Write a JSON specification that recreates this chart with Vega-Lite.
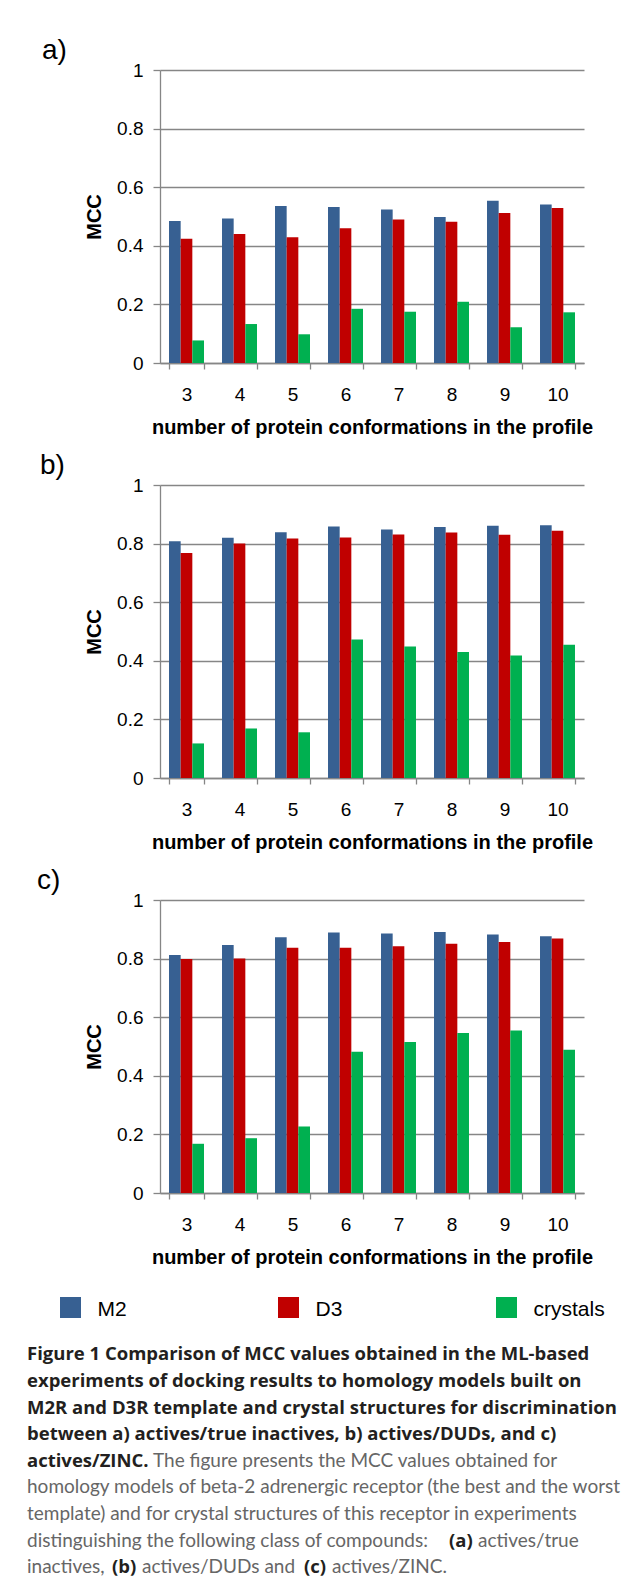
{
  "$schema": "https://vega.github.io/schema/vega-lite/v6.json",
  "padding": {"left": 27, "top": 37, "right": 0, "bottom": 0},
  "background": "white",
  "spacing": 15,
  "datasets": {
    "mcc": [
      {"panel": "a", "n": 3, "series": "M2", "MCC": 0.485}, {"panel": "a", "n": 3, "series": "D3", "MCC": 0.424}, {"panel": "a", "n": 3, "series": "crystals", "MCC": 0.077},
      {"panel": "a", "n": 4, "series": "M2", "MCC": 0.493}, {"panel": "a", "n": 4, "series": "D3", "MCC": 0.440}, {"panel": "a", "n": 4, "series": "crystals", "MCC": 0.133},
      {"panel": "a", "n": 5, "series": "M2", "MCC": 0.536}, {"panel": "a", "n": 5, "series": "D3", "MCC": 0.429}, {"panel": "a", "n": 5, "series": "crystals", "MCC": 0.098},
      {"panel": "a", "n": 6, "series": "M2", "MCC": 0.532}, {"panel": "a", "n": 6, "series": "D3", "MCC": 0.460}, {"panel": "a", "n": 6, "series": "crystals", "MCC": 0.185},
      {"panel": "a", "n": 7, "series": "M2", "MCC": 0.524}, {"panel": "a", "n": 7, "series": "D3", "MCC": 0.490}, {"panel": "a", "n": 7, "series": "crystals", "MCC": 0.175},
      {"panel": "a", "n": 8, "series": "M2", "MCC": 0.498}, {"panel": "a", "n": 8, "series": "D3", "MCC": 0.482}, {"panel": "a", "n": 8, "series": "crystals", "MCC": 0.209},
      {"panel": "a", "n": 9, "series": "M2", "MCC": 0.554}, {"panel": "a", "n": 9, "series": "D3", "MCC": 0.512}, {"panel": "a", "n": 9, "series": "crystals", "MCC": 0.122},
      {"panel": "a", "n": 10, "series": "M2", "MCC": 0.541}, {"panel": "a", "n": 10, "series": "D3", "MCC": 0.529}, {"panel": "a", "n": 10, "series": "crystals", "MCC": 0.173},
      {"panel": "b", "n": 3, "series": "M2", "MCC": 0.808}, {"panel": "b", "n": 3, "series": "D3", "MCC": 0.768}, {"panel": "b", "n": 3, "series": "crystals", "MCC": 0.118},
      {"panel": "b", "n": 4, "series": "M2", "MCC": 0.820}, {"panel": "b", "n": 4, "series": "D3", "MCC": 0.800}, {"panel": "b", "n": 4, "series": "crystals", "MCC": 0.169},
      {"panel": "b", "n": 5, "series": "M2", "MCC": 0.839}, {"panel": "b", "n": 5, "series": "D3", "MCC": 0.817}, {"panel": "b", "n": 5, "series": "crystals", "MCC": 0.156},
      {"panel": "b", "n": 6, "series": "M2", "MCC": 0.858}, {"panel": "b", "n": 6, "series": "D3", "MCC": 0.821}, {"panel": "b", "n": 6, "series": "crystals", "MCC": 0.473},
      {"panel": "b", "n": 7, "series": "M2", "MCC": 0.848}, {"panel": "b", "n": 7, "series": "D3", "MCC": 0.831}, {"panel": "b", "n": 7, "series": "crystals", "MCC": 0.449},
      {"panel": "b", "n": 8, "series": "M2", "MCC": 0.857}, {"panel": "b", "n": 8, "series": "D3", "MCC": 0.838}, {"panel": "b", "n": 8, "series": "crystals", "MCC": 0.430},
      {"panel": "b", "n": 9, "series": "M2", "MCC": 0.861}, {"panel": "b", "n": 9, "series": "D3", "MCC": 0.830}, {"panel": "b", "n": 9, "series": "crystals", "MCC": 0.418},
      {"panel": "b", "n": 10, "series": "M2", "MCC": 0.863}, {"panel": "b", "n": 10, "series": "D3", "MCC": 0.844}, {"panel": "b", "n": 10, "series": "crystals", "MCC": 0.455},
      {"panel": "c", "n": 3, "series": "M2", "MCC": 0.812}, {"panel": "c", "n": 3, "series": "D3", "MCC": 0.799}, {"panel": "c", "n": 3, "series": "crystals", "MCC": 0.168},
      {"panel": "c", "n": 4, "series": "M2", "MCC": 0.846}, {"panel": "c", "n": 4, "series": "D3", "MCC": 0.800}, {"panel": "c", "n": 4, "series": "crystals", "MCC": 0.187},
      {"panel": "c", "n": 5, "series": "M2", "MCC": 0.873}, {"panel": "c", "n": 5, "series": "D3", "MCC": 0.837}, {"panel": "c", "n": 5, "series": "crystals", "MCC": 0.227},
      {"panel": "c", "n": 6, "series": "M2", "MCC": 0.889}, {"panel": "c", "n": 6, "series": "D3", "MCC": 0.837}, {"panel": "c", "n": 6, "series": "crystals", "MCC": 0.482},
      {"panel": "c", "n": 7, "series": "M2", "MCC": 0.886}, {"panel": "c", "n": 7, "series": "D3", "MCC": 0.842}, {"panel": "c", "n": 7, "series": "crystals", "MCC": 0.515},
      {"panel": "c", "n": 8, "series": "M2", "MCC": 0.891}, {"panel": "c", "n": 8, "series": "D3", "MCC": 0.851}, {"panel": "c", "n": 8, "series": "crystals", "MCC": 0.546},
      {"panel": "c", "n": 9, "series": "M2", "MCC": 0.882}, {"panel": "c", "n": 9, "series": "D3", "MCC": 0.857}, {"panel": "c", "n": 9, "series": "crystals", "MCC": 0.555},
      {"panel": "c", "n": 10, "series": "M2", "MCC": 0.876}, {"panel": "c", "n": 10, "series": "D3", "MCC": 0.869}, {"panel": "c", "n": 10, "series": "crystals", "MCC": 0.489}
    ],
    "legend": [{"series": "M2"}, {"series": "D3"}, {"series": "crystals"}],
    "caption": [
      {"line": 1, "part": "b", "text": "Figure 1 Comparison of MCC values obtained in the ML-based"},
      {"line": 2, "part": "b", "text": "experiments of docking results to homology models built on"},
      {"line": 3, "part": "b", "text": "M2R and D3R template and crystal structures for discrimination"},
      {"line": 4, "part": "b", "text": "between a) actives/true inactives, b) actives/DUDs, and c)"},
      {"line": 5, "part": "b", "text": "actives/ZINC."},
      {"line": 5, "part": "n5", "text": "The figure presents the MCC values obtained for"},
      {"line": 6, "part": "n", "text": "homology models of beta-2 adrenergic receptor (the best and the worst"},
      {"line": 7, "part": "n", "text": "template) and for crystal structures of this receptor in experiments"},
      {"line": 8, "part": "n", "text": "distinguishing the following class of compounds:"},
      {"line": 8, "part": "b8a", "text": "(a)"},
      {"line": 8, "part": "n8", "text": "actives/true"},
      {"line": 9, "part": "n", "text": "inactives,"},
      {"line": 9, "part": "b9b", "text": "(b)"},
      {"line": 9, "part": "n9b", "text": "actives/DUDs and"},
      {"line": 9, "part": "b9c", "text": "(c)"},
      {"line": 9, "part": "n9c", "text": "actives/ZINC."}
    ]
  },
  "resolve": {"scale": {"x": "independent", "y": "independent", "xOffset": "independent"}},
  "config": {
    "font": "Liberation Sans",
    "view": {"stroke": null},
    "axis": {
      "domainColor": "#868686", "domainWidth": 1.3,
      "tickColor": "#868686", "tickWidth": 1.3,
      "gridColor": "#868686", "gridWidth": 1.3,
      "labelFont": "Liberation Sans", "labelFontSize": 19, "labelColor": "#000000",
      "titleFont": "Liberation Sans", "titleFontSize": 20, "titleFontWeight": "bold", "titleColor": "#000000"
    },
    "axisX": {"tickSize": 6, "labelPadding": 16, "titlePadding": 13, "grid": false, "labelAngle": 0, "tickBand": "extent"},
    "axisY": {"tickSize": 7, "labelPadding": 10, "titlePadding": 12, "grid": true},
    "title": {"fontSize": 28, "fontWeight": "normal", "font": "Liberation Sans", "anchor": "start", "frame": "group", "color": "#000000", "offset": -4}
  },
  "vconcat": [
    {
      "title": {"text": "a)", "dx": -118},
      "width": 424, "height": 293,
      "data": {"name": "mcc"},
      "transform": [{"filter": "datum.panel == 'a'"}],
      "mark": {"type": "bar"},
      "encoding": {
        "x": {"field": "n", "type": "ordinal", "scale": {"paddingInner": 0.34, "paddingOuter": 0.17}, "axis": {"title": "number of protein conformations in the profile"}},
        "xOffset": {"field": "series", "type": "nominal", "sort": ["M2", "D3", "crystals"], "scale": {"paddingInner": 0, "paddingOuter": 0}},
        "y": {"field": "MCC", "type": "quantitative", "scale": {"domain": [0, 1]}, "axis": {"title": "MCC", "values": [0, 0.2, 0.4, 0.6, 0.8, 1], "format": "~g"}},
        "color": {"field": "series", "type": "nominal", "scale": {"domain": ["M2", "D3", "crystals"], "range": ["#376092", "#C00000", "#00B050"]}, "legend": null}
      }
    },
    {
      "title": {"text": "b)", "dx": -120},
      "width": 424, "height": 293,
      "data": {"name": "mcc"},
      "transform": [{"filter": "datum.panel == 'b'"}],
      "mark": {"type": "bar"},
      "encoding": {
        "x": {"field": "n", "type": "ordinal", "scale": {"paddingInner": 0.34, "paddingOuter": 0.17}, "axis": {"title": "number of protein conformations in the profile"}},
        "xOffset": {"field": "series", "type": "nominal", "sort": ["M2", "D3", "crystals"], "scale": {"paddingInner": 0, "paddingOuter": 0}},
        "y": {"field": "MCC", "type": "quantitative", "scale": {"domain": [0, 1]}, "axis": {"title": "MCC", "values": [0, 0.2, 0.4, 0.6, 0.8, 1], "format": "~g"}},
        "color": {"field": "series", "type": "nominal", "scale": {"domain": ["M2", "D3", "crystals"], "range": ["#376092", "#C00000", "#00B050"]}, "legend": null}
      }
    },
    {
      "title": {"text": "c)", "dx": -123},
      "width": 424, "height": 293,
      "data": {"name": "mcc"},
      "transform": [{"filter": "datum.panel == 'c'"}],
      "mark": {"type": "bar"},
      "encoding": {
        "x": {"field": "n", "type": "ordinal", "scale": {"paddingInner": 0.34, "paddingOuter": 0.17}, "axis": {"title": "number of protein conformations in the profile"}},
        "xOffset": {"field": "series", "type": "nominal", "sort": ["M2", "D3", "crystals"], "scale": {"paddingInner": 0, "paddingOuter": 0}},
        "y": {"field": "MCC", "type": "quantitative", "scale": {"domain": [0, 1]}, "axis": {"title": "MCC", "values": [0, 0.2, 0.4, 0.6, 0.8, 1], "format": "~g"}},
        "color": {"field": "series", "type": "nominal", "scale": {"domain": ["M2", "D3", "crystals"], "range": ["#376092", "#C00000", "#00B050"]}, "legend": null}
      }
    },
    {
      "width": 400, "height": 25.5,
      "data": {"name": "legend"},
      "encoding": {
        "x": {"field": "series", "type": "nominal", "sort": ["M2", "D3", "crystals"], "scale": {"type": "point", "padding": 0, "range": [-89.5, 346.5]}, "axis": null},
        "y": {"datum": 0, "type": "quantitative", "scale": {"domain": [0, 1]}, "axis": null}
      },
      "layer": [
        {
          "mark": {"type": "point", "shape": "square", "filled": true, "size": 441, "opacity": 1},
          "encoding": {"color": {"field": "series", "type": "nominal", "scale": {"domain": ["M2", "D3", "crystals"], "range": ["#376092", "#C00000", "#00B050"]}, "legend": null}}
        },
        {
          "mark": {"type": "text", "align": "left", "baseline": "middle", "dx": 27, "dy": 2, "fontSize": 21, "font": "Liberation Sans", "color": "#000000"},
          "encoding": {"text": {"field": "series"}}
        }
      ]
    },
    {
      "width": 450, "height": 241.8,
      "data": {"name": "caption"},
      "encoding": {
        "y": {"field": "line", "type": "ordinal", "scale": {"type": "point", "padding": 0.545, "align": 0.879}, "axis": null},
        "x": {"datum": 0, "type": "quantitative", "scale": {"domain": [0, 1], "range": [-133, 317]}, "axis": null},
        "text": {"field": "text"}
      },
      "layer": [
        {"transform": [{"filter": "datum.part == 'b'"}], "mark": {"type": "text", "align": "left", "baseline": "alphabetic", "font": "Open Sans", "fontSize": 18.5, "fontWeight": "bold", "color": "#231F20"}},
        {"transform": [{"filter": "datum.part == 'n'"}], "mark": {"type": "text", "align": "left", "baseline": "alphabetic", "font": "Lato", "fontSize": 19, "fontWeight": "normal", "color": "#666666"}},
        {"transform": [{"filter": "datum.part == 'n5'"}], "mark": {"type": "text", "align": "left", "baseline": "alphabetic", "dx": 126, "font": "Lato", "fontSize": 19, "fontWeight": "normal", "color": "#666666"}},
        {"transform": [{"filter": "datum.part == 'b8a'"}], "mark": {"type": "text", "align": "left", "baseline": "alphabetic", "dx": 422, "font": "Open Sans", "fontSize": 18.5, "fontWeight": "bold", "color": "#231F20"}},
        {"transform": [{"filter": "datum.part == 'n8'"}], "mark": {"type": "text", "align": "left", "baseline": "alphabetic", "dx": 451, "font": "Lato", "fontSize": 19, "fontWeight": "normal", "color": "#666666"}},
        {"transform": [{"filter": "datum.part == 'b9b'"}], "mark": {"type": "text", "align": "left", "baseline": "alphabetic", "dx": 85, "font": "Open Sans", "fontSize": 18.5, "fontWeight": "bold", "color": "#231F20"}},
        {"transform": [{"filter": "datum.part == 'n9b'"}], "mark": {"type": "text", "align": "left", "baseline": "alphabetic", "dx": 115, "font": "Lato", "fontSize": 19, "fontWeight": "normal", "color": "#666666"}},
        {"transform": [{"filter": "datum.part == 'b9c'"}], "mark": {"type": "text", "align": "left", "baseline": "alphabetic", "dx": 277, "font": "Open Sans", "fontSize": 18.5, "fontWeight": "bold", "color": "#231F20"}},
        {"transform": [{"filter": "datum.part == 'n9c'"}], "mark": {"type": "text", "align": "left", "baseline": "alphabetic", "dx": 305, "font": "Lato", "fontSize": 19, "fontWeight": "normal", "color": "#666666"}}
      ]
    }
  ]
}
